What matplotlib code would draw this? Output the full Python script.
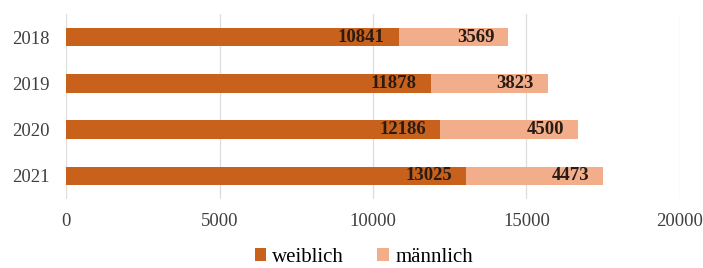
import matplotlib
matplotlib.use("Agg")
import matplotlib.pyplot as plt

# data
years = ["2018", "2019", "2020", "2021"]
weiblich = [10841, 11878, 12186, 13025]
maennlich = [3569, 3823, 4500, 4473]

c_w = "#C8611C"
c_m = "#F2AE8A"

plt.rcParams["font.family"] = ["Liberation Serif", "DejaVu Serif"]

fig = plt.figure(figsize=(7.03, 2.68), dpi=100)
ax = fig.add_axes([0.094, 0.257, 0.873, 0.691])

pos = list(range(len(years)))
ax.barh(pos, weiblich, height=0.4, color=c_w, label="weiblich", zorder=3)
ax.barh(pos, maennlich, left=weiblich, height=0.4, color=c_m, label="männlich", zorder=3)

# value labels, right aligned just inside the end of each segment
for y, w, m in zip(pos, weiblich, maennlich):
    ax.annotate(str(w), xy=(w, y), xytext=(-10, 0), textcoords="offset points",
                ha="right", va="center", fontsize=13.5, fontweight="bold",
                color="#2a1c14", zorder=4)
    ax.annotate(str(m), xy=(w + m, y), xytext=(-10, 0), textcoords="offset points",
                ha="right", va="center", fontsize=13.5, fontweight="bold",
                color="#2a1c14", zorder=4)

ax.set_xlim(0, 20000)
ax.set_ylim(3.5, -0.5)
ax.set_yticks(pos)
ax.set_yticklabels(years, fontsize=13.5, color="#404040")
ax.set_xticks([0, 5000, 10000, 15000, 20000])
ax.tick_params(axis="x", labelsize=13.5, colors="#404040", length=0, pad=10)
ax.tick_params(axis="y", length=0, pad=12)
ax.xaxis.grid(True, color="#DDDDDD", linewidth=0.9, zorder=0)
for s in ax.spines.values():
    s.set_visible(False)

ax.legend(loc="center", bbox_to_anchor=(0.485, -0.315), ncol=2, frameon=False,
          fontsize=15, handlelength=0.55, handleheight=0.55, handletextpad=0.3,
          columnspacing=1.6, borderpad=0)

fig.savefig("out.png", dpi=100)
